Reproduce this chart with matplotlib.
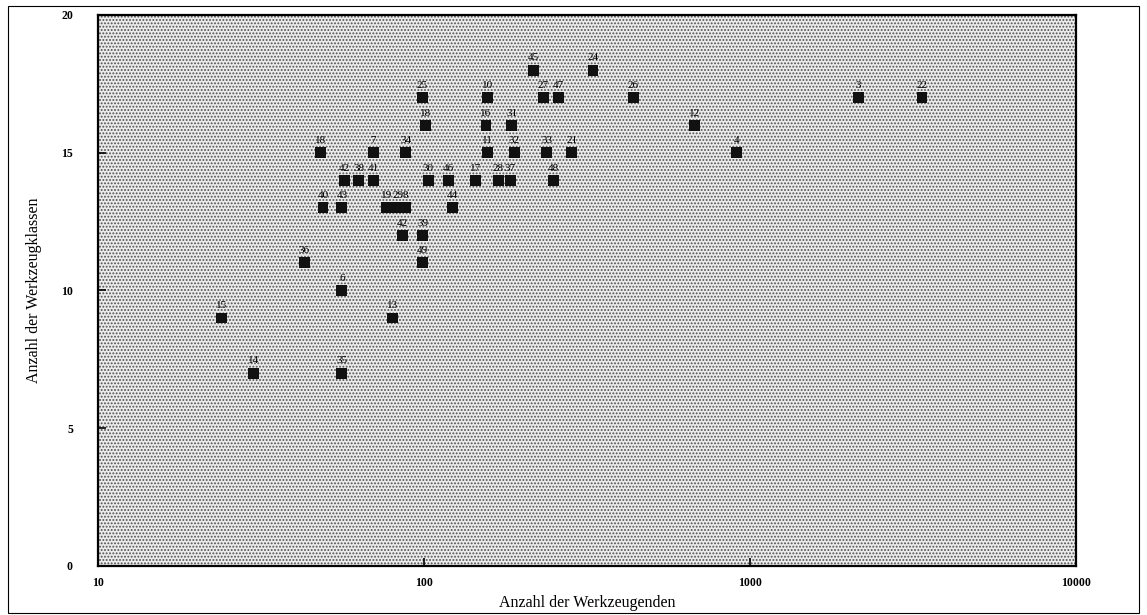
"""
Werkzeugenden vs. Werkzeugklassen (log x), labelled scatter.
"""

import matplotlib
matplotlib.use("Agg")
import matplotlib.pyplot as plt
from matplotlib.patches import Rectangle
from matplotlib.ticker import FixedLocator, FixedFormatter


# ---------------------------------------------------------
# Data
# ---------------------------------------------------------
point_ids = [
    "15", "14", "36", "6", "35", "13", "40", "43", "18",
    "42", "38", "41", "7", "34", "18", "25", "30", "46", "17",
    "28", "37", "48", "19", "29", "8", "44", "42", "39", "49",
    "45", "24", "10", "27", "47", "16", "31", "11", "32", "33",
    "21", "26", "12", "4", "3", "22",
]
werkzeugenden = [
    24, 30, 43, 56, 56, 80, 49, 56, 48,
    57, 63, 70, 70, 88, 101, 99, 103, 119, 144,
    169, 184, 249, 77, 83, 88, 122, 86, 99, 99,
    217, 330, 157, 232, 259, 155, 186, 157, 189, 238,
    284, 438, 678, 912, 2145, 3370,
]
werkzeugklassen = [
    9, 7, 11, 10, 7, 9, 13, 13, 15,
    14, 14, 14, 15, 15, 16, 17, 14, 14, 14,
    14, 14, 14, 13, 13, 13, 13, 12, 12, 11,
    18, 18, 17, 17, 17, 16, 16, 15, 15, 15,
    15, 17, 16, 15, 17, 17,
]

x_ticks = [10, 100, 1000, 10000]
x_tick_labels = ["10", "100", "1000", "10000"]
y_ticks = [0, 5, 10, 15, 20]


# ---------------------------------------------------------
# Figure
# ---------------------------------------------------------
def main():
    plt.rcParams["font.family"] = ["Liberation Serif", "DejaVu Serif"]
    plt.rcParams["hatch.color"] = "#505050"
    plt.rcParams["hatch.linewidth"] = 0.9

    fig = plt.figure(figsize=(11.47, 6.15), dpi=100)
    ax = fig.add_axes([0.0854, 0.0797, 0.8527, 0.8960])

    # outer frame around the whole page
    fig.patches.append(Rectangle((0.007, 0.003), 0.986, 0.988, transform=fig.transFigure,
                                 fill=False, edgecolor="black", linewidth=0.8))

    # halftone-like background
    ax.set_facecolor("#ebebeb")
    ax.add_patch(Rectangle((0, 0), 1, 1, transform=ax.transAxes, facecolor="none",
                           hatch=".....", edgecolor="#505050", linewidth=0, zorder=0))

    ax.set_xscale("log")
    ax.set_xlim(10, 10000)
    ax.set_ylim(0, 20)

    ax.scatter(werkzeugenden, werkzeugklassen, marker="s", s=62, color="#111111",
               edgecolors="none", zorder=3)
    for pid, xv, yv in zip(point_ids, werkzeugenden, werkzeugklassen):
        ax.annotate(pid, (xv, yv), xytext=(0, 5.5), textcoords="offset points",
                    ha="center", va="bottom", fontsize=8, zorder=4)

    ax.xaxis.set_major_locator(FixedLocator(x_ticks))
    ax.xaxis.set_major_formatter(FixedFormatter(x_tick_labels))
    ax.xaxis.set_minor_locator(FixedLocator([]))
    ax.set_yticks(y_ticks)
    ax.tick_params(axis="both", direction="in", length=6, width=1.2,
                   labelsize=8.5, pad=8)
    for lab in ax.get_xticklabels() + ax.get_yticklabels():
        lab.set_fontweight("bold")
    ax.tick_params(axis="y", pad=18)

    for side in ax.spines.values():
        side.set_linewidth(1.6)

    ax.set_xlabel("Anzahl der Werkzeugenden", fontsize=11.5, labelpad=4)
    ax.set_ylabel("Anzahl der Werkzeugklassen", fontsize=11.5, labelpad=14)

    fig.savefig("out.png", dpi=100)
    plt.close(fig)


if __name__ == "__main__":
    main()
